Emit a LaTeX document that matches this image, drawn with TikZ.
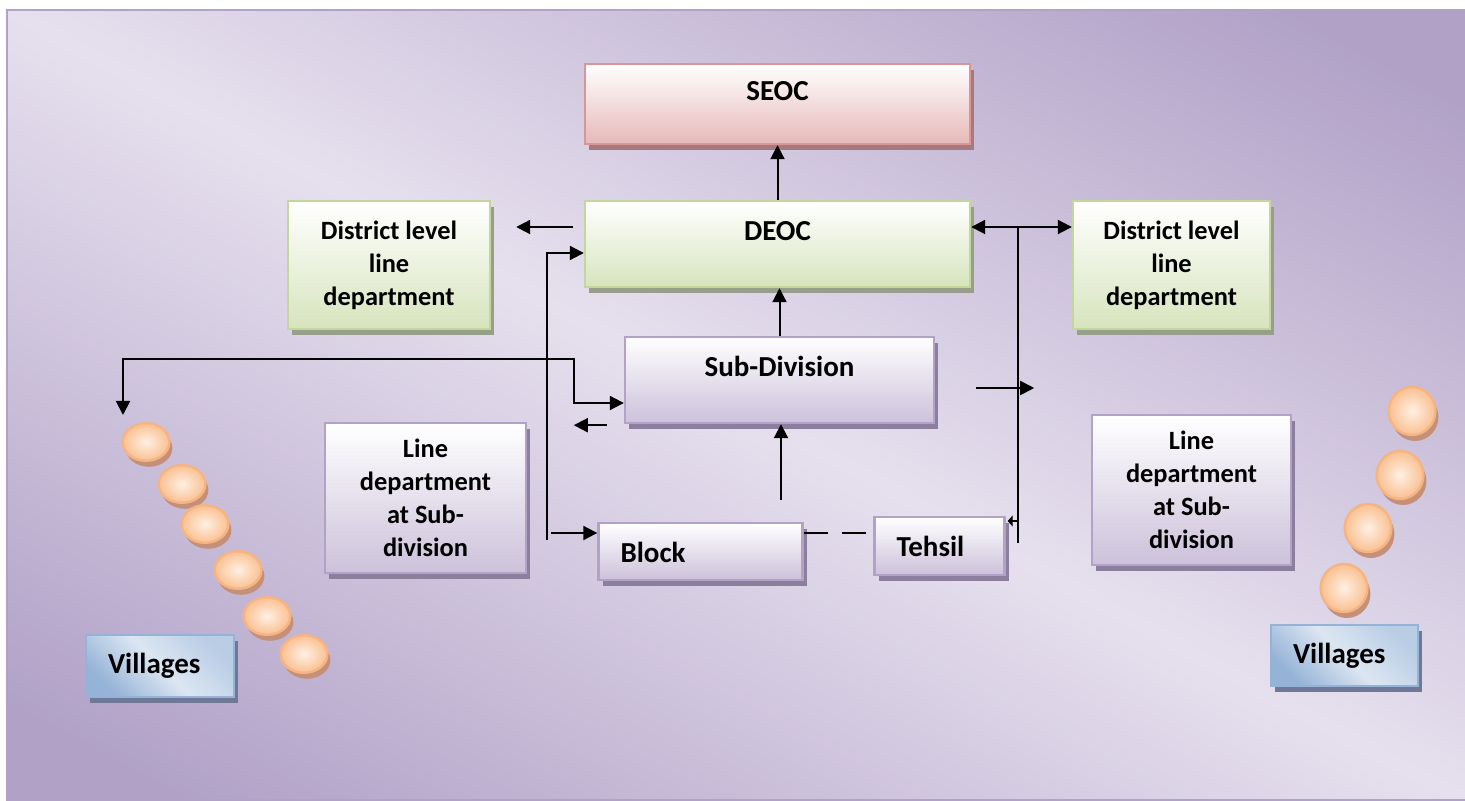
\documentclass[tikz,border=0pt]{standalone}
\usepackage{fontspec}
\setmainfont{Carlito}
\usetikzlibrary{arrows.meta, shadows, calc}
\definecolor{bglight}{HTML}{E6E0EE}
\definecolor{bgdark}{HTML}{B1A1C7}
\definecolor{seocline}{HTML}{D99694}
\definecolor{seocfill}{HTML}{E6B9B8}
\definecolor{seocshade}{HTML}{A47A80}
\definecolor{greenline}{HTML}{C3D69B}
\definecolor{greenfill}{HTML}{D7E4BD}
\definecolor{greenshade}{HTML}{979E89}
\definecolor{lilacline}{HTML}{B3A2C7}
\definecolor{lilacfill}{HTML}{CCC1DA}
\definecolor{lilacshade}{HTML}{8C7F9E}
\definecolor{blueline}{HTML}{95B3D7}
\definecolor{bluemid}{HTML}{B9CDE5}
\definecolor{bluelight}{HTML}{DCE6F2}
\definecolor{blueshade}{HTML}{6F7896}
\definecolor{peach}{HTML}{FAC090}
\definecolor{peachlight}{HTML}{FEF0E4}
\definecolor{peachline}{HTML}{F5B482}
\definecolor{peachshade}{HTML}{C4907A}
\pgfdeclareverticalshading{bgband}{100bp}{color(0bp)=(bgdark); color(20bp)=(bgdark);
	color(50bp)=(bglight); color(80bp)=(bgdark); color(100bp)=(bgdark)}

\tikzset{
	card/.style={draw, line width=1.2pt, align=center, inner sep=0pt,
		font=\fontsize{13.2}{16.5}\selectfont\bfseries, top color=white},
	big/.style={font=\fontsize{14.5}{17}\selectfont\bfseries},
	shadowed/.style={drop shadow={shadow xshift=2pt, shadow yshift=-3pt, opacity=1, fill=#1}},
	seocbox/.style={card, draw=seocline, bottom color=seocfill, shadowed=seocshade},
	greenbox/.style={card, draw=greenline, bottom color=greenfill, shadowed=greenshade},
	lilacbox/.style={card, draw=lilacline, bottom color=lilacfill, shadowed=lilacshade},
	bluebox/.style={card, draw=blueline, top color=bluemid, bottom color=blueline,
		middle color=bluelight, shading angle=-45, shadowed=blueshade},
	upper/.style={text height=9pt, text depth=12.5pt},
	lefttext/.style={align=left, text width=#1, inner xsep=11pt}
}

\begin{document}
\begin{tikzpicture}[x=0.5pt, y=-0.5pt, line width=1pt, >={Triangle[length=7pt,width=7pt]}]
	\useasboundingbox (0,0) rectangle (1465,801);
	% background
	\shade[shading=bgband, shading angle=-28.5] (7,10) rectangle (1465,800);
	\draw[lilacline, line width=0.8pt] (1466,10) -- (7,10) -- (7,800) -- (1466,800);

	% boxes
	\node[seocbox, big, upper, minimum width=192.5pt, minimum height=40pt] (seoc) at (777.5,104) {SEOC};
	\node[greenbox, big, upper, minimum width=192.5pt, minimum height=43pt] (deoc) at (777.5,244) {DEOC};
	\node[greenbox, minimum width=101pt, minimum height=64pt] (dleft) at (389,265) {District level\\line\\department};
	\node[greenbox, minimum width=98.5pt, minimum height=64pt] (dright) at (1171.5,265) {District level\\line\\department};
	\node[lilacbox, big, upper, minimum width=154.5pt, minimum height=43pt] (subdiv) at (779.5,380) {Sub-Division};
	\node[lilacbox, minimum width=100.5pt, minimum height=75pt] (lleft) at (425.5,498) {Line\\department\\at Sub-\\division};
	\node[lilacbox, minimum width=99.5pt, minimum height=75pt] (lright) at (1191.5,490) {Line\\department\\at Sub-\\division};
	\node[lilacbox, big, lefttext=80pt, text height=11pt, text depth=0pt, minimum height=28.5pt] (block) at (700.5,551.5) {Block};
	\node[lilacbox, big, lefttext=43pt, minimum height=29pt] (tehsil) at (939.5,546) {Tehsil};
	\node[bluebox, big, lefttext=52pt, minimum height=31pt] (vleft) at (160,666) {Villages};
	\node[bluebox, big, lefttext=51.5pt, minimum height=30.5pt] (vright) at (1344.5,655.5) {Villages};

	% villages as beads
	\foreach \cx/\cy in {146/442, 182/484, 205/524, 238/570, 267/616, 304/654}{
		\fill[peachshade] (\cx+3,\cy+6) ellipse [x radius=11.7pt, y radius=9.4pt];
		\shadedraw[draw=peachline, line width=1.2pt, inner color=peachlight, outer color=peach] (\cx,\cy) ellipse [x radius=11.7pt, y radius=9.4pt];
	}
	\foreach \cx/\cy in {1412/411, 1400/475, 1368/528, 1344/588}{
		\fill[peachshade] (\cx+3,\cy+6) ellipse [x radius=11.7pt, y radius=12pt];
		\shadedraw[draw=peachline, line width=1.2pt, inner color=peachlight, outer color=peach] (\cx,\cy) ellipse [x radius=11.7pt, y radius=12pt];
	}

	% connectors
	\coordinate (blkup) at (781,500);
	\coordinate (lbus) at (547,540);
	\coordinate (vtip) at (123,415);
	\coordinate (bend) at (574,359);
	\coordinate (rtop) at (1018,227);
	\coordinate (rbus) at (1018,543);
	\draw[->] (deoc.north) -- (seoc.south);
	\draw[->] (subdiv.north) -- (subdiv.north |- deoc.south);
	\draw[->] (blkup) -- (blkup |- subdiv.south);
	\draw[->] ($(deoc.west)+(-11,-17)$) -- ($(dleft.east)+(25,-38)$);
	\draw[->] (lbus) |- ($(deoc.west)+(0,9)$);
	\draw[->] ($(block.west)+(-46,-18.5)$) -- ($(block.west)+(0,-18.5)$);
	\draw[<->] (vtip) |- (bend) |- ($(subdiv.west)+(0,23)$);
	\draw[->] ($(subdiv.south west)+(-17,1)$) -- ($(subdiv.south west)+(-50,1)$);
	\draw[<->] ($(deoc.east)+(0,-17)$) -- ($(dright.west)+(0,-38)$);
	\draw (rtop) -- (rbus);
	\draw[->] ($(subdiv.east)+(41,8)$) -- ($(subdiv.east)+(99,8)$);
	\draw[-{Triangle[length=2.5pt,width=5.5pt]}] ($(tehsil.east)+(13,-25)$) -- ($(tehsil.east)+(2,-25)$);
	\draw[dash pattern=on 12pt off 7pt] ($(block.east)+(0,-18.5)$) -- ($(tehsil.west)+(0,-13)$);
\end{tikzpicture}
\end{document}
